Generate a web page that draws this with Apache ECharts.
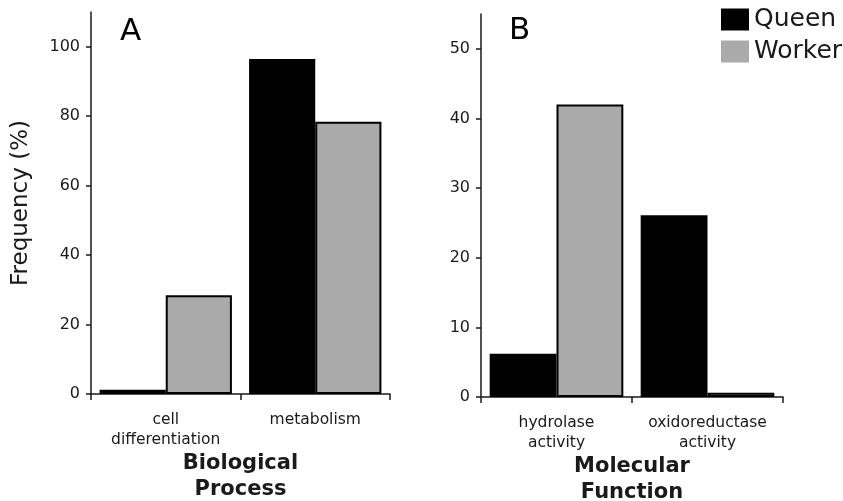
<!DOCTYPE html>
<html>
<head>
<meta charset="utf-8">
<script src="https://cdn.jsdelivr.net/npm/echarts@6/dist/echarts.min.js"></script>
<style>
  html, body { margin: 0; padding: 0; background: #fff; }
  #chart { width: 843px; height: 501px; }
</style>
</head>
<body>
<div id="chart"></div>
<script>
// panel A: biological process
var processCats = ['cell\ndifferentiation', 'metabolism'];
var processQueen = [1.2, 96.5];
var processWorker = [28.4, 78.4];
var processTicks = [0, 20, 40, 60, 80, 100];

// panel B: molecular function
var functionCats = ['hydrolase\nactivity', 'oxidoreductase\nactivity'];
var functionQueen = [6.2, 26.1];
var functionWorker = [42.0, 0.6];
var functionTicks = [0, 10, 20, 30, 40, 50];

var font = 'DejaVu Sans';
var ink = '#1a1a1a';

function xAxisFor(idx, cats, name) {
  return {
    type: 'category',
    gridIndex: idx,
    data: cats,
    name: name,
    nameLocation: 'middle',
    nameGap: 57,
    nameMoveOverlap: false,
    nameTextStyle: { fontFamily: font, fontSize: 21, fontWeight: 'bold', color: ink, lineHeight: 26 },
    axisLine: { lineStyle: { color: ink, width: 1.5 } },
    axisTick: { show: true, length: 6, lineStyle: { color: ink, width: 1.5 } },
    axisLabel: { interval: 0, fontFamily: font, fontSize: 15.5, lineHeight: 20, margin: 16, color: ink },
    splitLine: { show: false }
  };
}

function yAxisFor(idx, max, ticks, name) {
  return {
    type: 'value',
    gridIndex: idx,
    min: 0,
    max: max,
    name: name,
    nameLocation: 'middle',
    nameGap: 58,
    nameTextStyle: { fontFamily: font, fontSize: 23, color: ink },
    axisLine: { show: true, lineStyle: { color: ink, width: 1.5 } },
    axisTick: { show: true, length: 5, customValues: ticks, lineStyle: { color: ink, width: 1.5 } },
    axisLabel: { customValues: ticks, fontFamily: font, fontSize: 16, margin: 11, color: ink },
    splitLine: { show: false }
  };
}

function bars(name, idx, values, fill, border) {
  return {
    name: name,
    type: 'bar',
    xAxisIndex: idx,
    yAxisIndex: idx,
    data: values,
    barGap: '0%',
    barCategoryGap: '11.5%',
    itemStyle: { color: fill, borderColor: '#000', borderWidth: border },
    emphasis: { disabled: true }
  };
}

var myChart = echarts.init(document.getElementById('chart'), null, { renderer: 'canvas' });

var options = {
  animation: false,
  backgroundColor: '#fff',
  textStyle: { fontFamily: font },
  grid: [
    { left: 91, top: 12, width: 299, height: 382, outerBoundsMode: 'none', containLabel: false },
    { left: 481, top: 14, width: 302, height: 383, outerBoundsMode: 'none', containLabel: false }
  ],
  legend: {
    orient: 'vertical',
    left: 716,
    top: 2,
    itemWidth: 28,
    itemHeight: 22,
    itemGap: 7,
    icon: 'rect',
    selectedMode: false,
    textStyle: { fontFamily: font, fontSize: 25, color: ink },
    data: [
      { name: 'Queen', itemStyle: { color: '#000', borderWidth: 0 } },
      { name: 'Worker', itemStyle: { color: '#aaaaaa', borderWidth: 0 } }
    ]
  },
  graphic: [
    { type: 'text', left: 120, top: 16, style: { text: 'A', fontFamily: font, fontSize: 31, fill: '#000' } },
    { type: 'text', left: 509, top: 15, style: { text: 'B', fontFamily: font, fontSize: 31, fill: '#000' } }
  ],
  xAxis: [
    xAxisFor(0, processCats, 'Biological\nProcess'),
    xAxisFor(1, functionCats, 'Molecular\nFunction')
  ],
  yAxis: [
    yAxisFor(0, 110, processTicks, 'Frequency (%)'),
    yAxisFor(1, 55, functionTicks, '')
  ],
  series: [
    bars('Queen', 0, processQueen, '#000', 0),
    bars('Worker', 0, processWorker, '#aaaaaa', 2),
    bars('Queen', 1, functionQueen, '#000', 0),
    bars('Worker', 1, functionWorker, '#aaaaaa', 2)
  ]
};

myChart.setOption(options, true);
</script>
</body>
</html>
